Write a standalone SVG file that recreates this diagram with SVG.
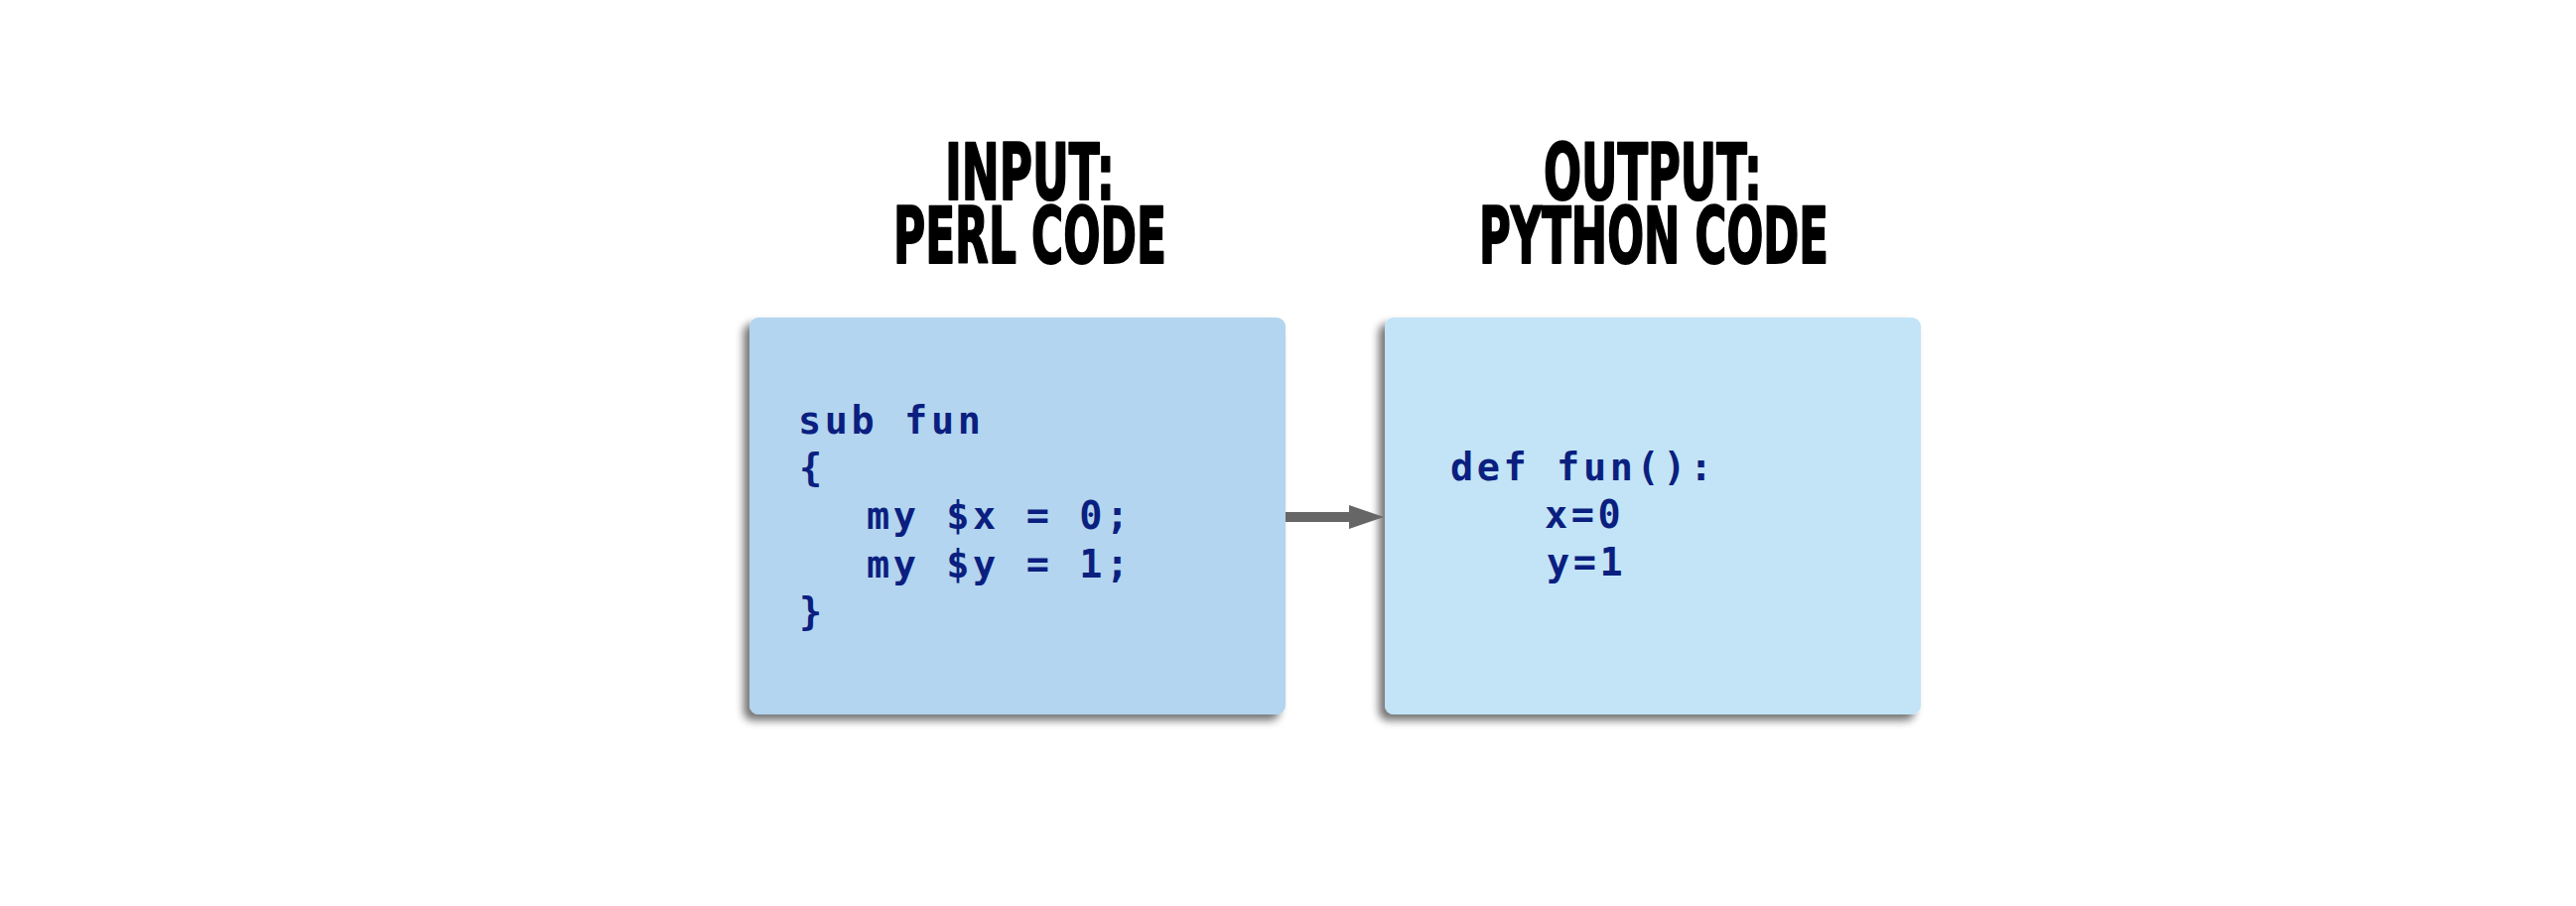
<svg xmlns="http://www.w3.org/2000/svg" width="2595" height="913" viewBox="0 0 2595 913">
<style>
.title{font-family:"DejaVu Sans Condensed","DejaVu Sans",sans-serif;font-weight:bold;font-size:79px;fill:#000;stroke:#000;stroke-width:2;stroke-linejoin:round}
.code{font-family:"DejaVu Sans Mono","Liberation Mono",monospace;font-weight:bold;font-size:38.5px;fill:#0b1f80;letter-spacing:3.6px}
.box{filter:url(#sh)}
</style>
<defs>
<filter id="sh" x="-10%" y="-10%" width="120%" height="125%">
<feGaussianBlur in="SourceAlpha" stdDeviation="4"/>
<feOffset dx="-6" dy="6" result="b"/>
<feComponentTransfer><feFuncA type="linear" slope="0.55"/></feComponentTransfer>
<feMerge><feMergeNode/><feMergeNode in="SourceGraphic"/></feMerge>
</filter>
</defs>
<rect width="2595" height="913" fill="#fff"/>
<g id="title-input">
<text class="title" x="952" y="201" textLength="171" lengthAdjust="spacingAndGlyphs">INPUT:</text>
<text class="title" x="900" y="265" textLength="275" lengthAdjust="spacingAndGlyphs">PERL CODE</text>
</g>
<g id="title-output">
<text class="title" x="1555" y="201" textLength="220" lengthAdjust="spacingAndGlyphs">OUTPUT:</text>
<text class="title" x="1490" y="265" textLength="352" lengthAdjust="spacingAndGlyphs">PYTHON CODE</text>
</g>
<g id="perl-box">
<rect class="box" x="755" y="320" width="540" height="400" rx="9" fill="#b3d5ef"/>
<text class="code" x="804" y="437">sub fun</text>
<text class="code" x="805" y="485">{</text>
<text class="code" x="873" y="533">my $x = 0;</text>
<text class="code" x="873" y="582">my $y = 1;</text>
<text class="code" x="805" y="630">}</text>
</g>
<g id="python-box">
<rect class="box" x="1395" y="320" width="540" height="400" rx="9" fill="#c2e4f6"/>
<text class="code" x="1461" y="484">def fun():</text>
<text class="code" x="1556" y="532" letter-spacing="0">x=0</text>
<text class="code" x="1558" y="580" letter-spacing="0">y=1</text>
</g>
<g id="connectors">
<line x1="1295" y1="521" x2="1362" y2="521" stroke="#666" stroke-width="10"/>
<polygon points="1359,509 1394,521 1359,533" fill="#666"/>
</g>
</svg>
